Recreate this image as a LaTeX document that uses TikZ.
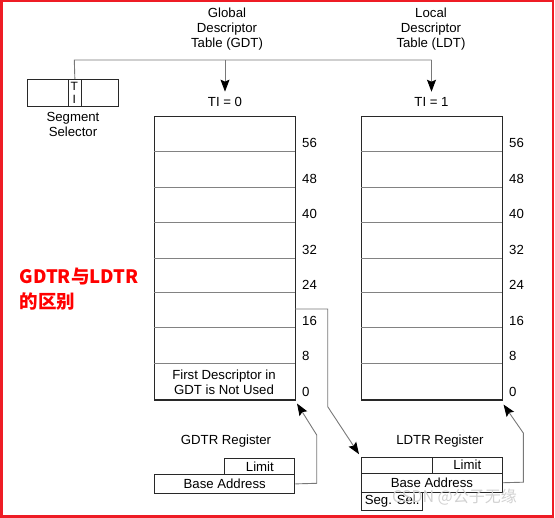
\documentclass[tikz,border=0pt]{standalone}
\usepackage{fontspec}
\setmainfont{Liberation Sans}
\newfontfamily\cjk{Noto Sans CJK SC}
\usetikzlibrary{arrows.meta}
\definecolor{frame}{RGB}{238,28,37}
\definecolor{inkline}{RGB}{40,40,40}
\definecolor{rowgray}{RGB}{130,130,130}
\definecolor{conngray}{RGB}{120,120,120}
\tikzset{
  tablebox/.style={draw=inkline, line width=1.2pt, minimum width=141pt, minimum height=283.5pt, anchor=north west, inner sep=0pt},
  rowline/.style={draw=rowgray, line width=0.9pt},
  regbox/.style={draw=inkline, line width=1.1pt, inner sep=0pt, anchor=north west},
  conn/.style={draw=conngray, line width=0.9pt},
  tip/.style={-{Stealth[length=12pt,width=9pt,inset=2pt,color=black]}},
  numlbl/.style={anchor=west, inner sep=0pt},
  txt/.style={inner sep=0pt, align=center},
}
\begin{document}
\begin{tikzpicture}[x=1pt,y=-1pt, font=\fontsize{13.2}{15}\selectfont]
\useasboundingbox (0,0) rectangle (555,518);
\draw[frame, line width=2.6pt] (1.2,1.2) rectangle (553,516.6);

% titles
\node[txt] (gdttitle) at (227,29) {Global\\[0pt]Descriptor\\[0pt]Table (GDT)};
\node[txt] (ldttitle) at (431,29) {Local\\[0pt]Descriptor\\[0pt]Table (LDT)};

% segment selector
\node[regbox, minimum width=91.5pt, minimum height=27pt] (ss) at (26.8,79) {};
\node[regbox, minimum width=13pt, minimum height=27pt] (ti) at (67.8,79) {};
\node[txt, font=\fontsize{12}{12}\selectfont] (tiT) at (74.3,86.5) {T};
\node[txt, font=\fontsize{12}{12}\selectfont] (tiI) at (74.3,99.5) {I};
\node[txt] (sslbl) at (73,124.5) {Segment\\[0pt]Selector};

% TI labels
\node[txt] (ti0) at (225,101.5) {TI = 0};
\node[txt] (ti1) at (431.5,101.5) {TI = 1};
\coordinate (busL) at (74.3,60);
\coordinate (busG) at (225,60);
\coordinate (busR) at (431.5,60);
\draw[conn] (ti.north) -- (busL) -- (busR);
\draw[conn, tip] (busR) -- ([yshift=5pt]ti1.north);
\draw[conn, tip] (busG) -- ([yshift=5pt]ti0.north);

% tables
\node[tablebox] (gdt) at (153.5,116) {};
\node[tablebox] (ldt) at (361,116) {};
\foreach \y in {151.7,187,222.7,258.3,292.3,327.7,363.3}{
  \draw[rowline] (153.5,\y) -- (294.5,\y);
  \draw[rowline] (361,\y) -- (502,\y);
}
\foreach \v [count=\i] in {56,48,40,32,24,16,8,0}{
  \node[numlbl] (gn\v) at (302,{116+\i*35.44-8}) {\v};
  \node[numlbl] (ln\v) at (509,{116+\i*35.44-8}) {\v};
}
\node[txt] (firstdesc) at (224,382) {First Descriptor in\\[0pt]GDT is Not Used};

% GDTR
\node[txt] (gdtrlbl) at (226,441.5) {GDTR Register};
\node[regbox, minimum width=70pt, minimum height=16.3pt] (glim) at (224.3,457.7) {Limit};
\node[regbox, minimum width=140.3pt, minimum height=18.7pt] (gbase) at (154,474) {Base Address};

% LDTR
\node[txt] (ldtrlbl) at (440,441.5) {LDTR Register};
\node[regbox, minimum width=70.7pt, minimum height=16pt] (lblank) at (361,456.7) {};
\node[regbox, minimum width=70pt, minimum height=16pt] (llim) at (431.7,456.7) {Limit};
\node[regbox, minimum width=140.7pt, minimum height=19pt] (lbase) at (361,472.7) {Base Address};
\node[regbox, minimum width=61.3pt, minimum height=18.3pt] (lsel) at (361,491.7) {Seg. Sel.};

% connectors
\coordinate (gtipend) at (297,403.5);
\draw[conn, tip] (gbase.east) -- (316.7,483.3) -- (316.7,435) -- (gtipend);
\coordinate (ldesc) at (295,309);
\draw[conn, tip] (ldesc) -- (327.7,309) -- (327.7,406.7) -- ([shift={(-2pt,2.5pt)}]lblank.north west);
\coordinate (ltipend) at (503.5,404.5);
\draw[conn, tip] (lbase.east) -- (523.3,482.2) -- (523.3,433) -- (ltipend);

% red note
\node[anchor=west, inner sep=0pt, align=left, text=red, font=\cjk\bfseries\fontsize{18.5}{25.7}\selectfont] (note) at (19.5,289) {GDTR与LDTR\\的区别};

% watermark
\node[anchor=west, inner sep=0pt, text=black!18, font=\cjk\fontsize{16}{18}\selectfont] (wm) at (392,497.5) {CSDN @公子无缘};
\end{tikzpicture}
\end{document}
